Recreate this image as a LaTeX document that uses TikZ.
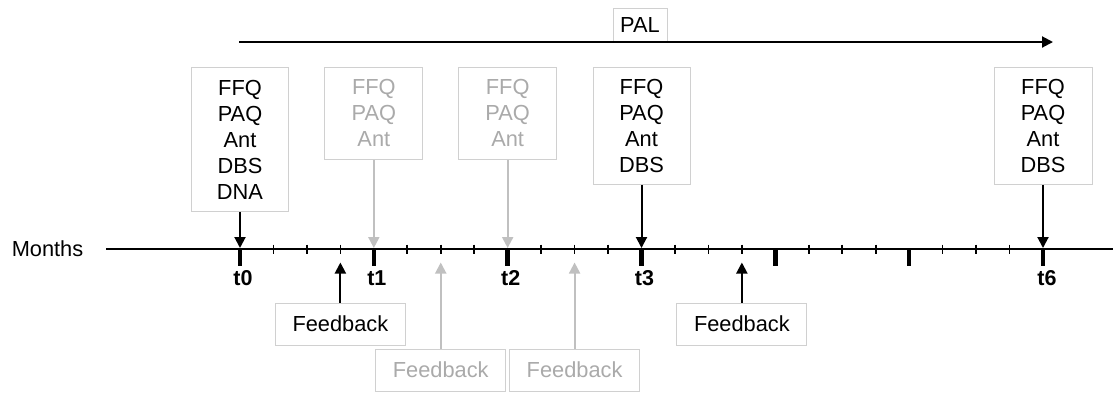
\documentclass[tikz,border=0pt]{standalone}
\usepackage{fontspec}
\setmainfont{Liberation Sans}
\usetikzlibrary{arrows.meta}

\definecolor{boxline}{RGB}{208,208,208}
\definecolor{fadetext}{RGB}{170,170,170}
\definecolor{fadearrow}{RGB}{192,192,192}

\tikzset{
  txt/.style={font=\fontsize{21.8}{26}\selectfont},
  lbl/.style={font=\fontsize{21.5}{26}\selectfont\bfseries},
  infobox/.style={draw=boxline, line width=0.9pt, fill=white, align=center,
    inner sep=0pt, txt, anchor=north},
  fbbox/.style={draw=boxline, line width=0.9pt, fill=white, inner sep=0pt,
    minimum width=130pt, minimum height=42pt, txt},
  faded/.style={text=fadetext},
  arr/.style={line width=2pt, -{Triangle[length=11pt,width=11pt]}},
  fadearr/.style={arr, draw=fadearrow, fill=fadearrow},
  minortick/.style={line width=1.6pt},
  majortick/.style={fill=black},
}

\begin{document}
\begin{tikzpicture}[x=1pt, y=-1pt]
  \useasboundingbox (0,0) rectangle (1113,392);

  % month positions along the axis
  \foreach \i in {0,...,24} {
    \coordinate (m\i) at ({240+33.458*\i},249);
  }
  \coordinate (axL) at (106,249);
  \coordinate (axR) at (1113,249);
  \coordinate (top) at (0,67);

  % axis and ticks
  \node[txt, anchor=center] (months) at (47.5,249) {Months};
  \draw[line width=2pt] (axL) -- (axR);
  \foreach \i in {1,2,3,5,6,7,9,10,11,13,14,15,17,18,19,21,22,23} {
    \draw[minortick] ([yshift=4.5pt]m\i) -- ([yshift=-4.5pt]m\i);
  }
  \foreach \i in {0,4,8,12,16,20,24} {
    \fill[majortick] ([xshift=-2.2pt]m\i) rectangle ([xshift=2.2pt,yshift=-17pt]m\i);
  }

  % time point labels
  \node[lbl] (t0) at ([xshift=3pt,yshift=-29pt]m0) {t0};
  \node[lbl] (t1) at ([xshift=3pt,yshift=-29pt]m4) {t1};
  \node[lbl] (t2) at ([xshift=3pt,yshift=-29pt]m8) {t2};
  \node[lbl] (t3) at ([xshift=3pt,yshift=-29pt]m12) {t3};
  \node[lbl] (t6) at ([xshift=4pt,yshift=-29pt]m24) {t6};

  % PAL span
  \coordinate (palL) at (239,42);
  \coordinate (palR) at (1053,42);
  \node[draw=boxline, line width=0.9pt, fill=white, txt, minimum width=54pt,
        minimum height=34pt, inner sep=0pt] (pal) at (640,25) {PAL};
  \draw[arr] (palL) -- (palR);

  % measurement boxes
  \node[infobox, minimum width=97pt, minimum height=144pt] (b0) at (m0 |- top)
    {FFQ\\PAQ\\Ant\\DBS\\DNA};
  \node[infobox, faded, minimum width=98pt, minimum height=92pt] (b1) at (m4 |- top)
    {FFQ\\PAQ\\Ant};
  \node[infobox, faded, minimum width=98pt, minimum height=92pt] (b2) at (m8 |- top)
    {FFQ\\PAQ\\Ant};
  \node[infobox, minimum width=97pt, minimum height=117pt] (b3) at (m12 |- top)
    {FFQ\\PAQ\\Ant\\DBS};
  \node[infobox, minimum width=98pt, minimum height=117pt] (b6) at (m24 |- top)
    {FFQ\\PAQ\\Ant\\DBS};

  \draw[arr] (b0.south) -- ([yshift=1pt]m0);
  \draw[fadearr] (b1.south) -- ([yshift=1pt]m4);
  \draw[fadearr] (b2.south) -- ([yshift=1pt]m8);
  \draw[arr] (b3.south) -- ([yshift=1pt]m12);
  \draw[arr] (b6.south) -- ([yshift=1pt]m24);

  % feedback boxes
  \coordinate (rowA) at (0,324);
  \coordinate (rowB) at (0,370);
  \node[fbbox] (f1) at (m3 |- rowA) {Feedback};
  \node[fbbox, faded] (f2) at (m6 |- rowB) {Feedback};
  \node[fbbox, faded] (f3) at (m10 |- rowB) {Feedback};
  \node[fbbox] (f4) at (m15 |- rowA) {Feedback};

  \draw[arr] (f1.north) -- ([yshift=-13.5pt]m3);
  \draw[fadearr] (f2.north) -- ([yshift=-13.5pt]m6);
  \draw[fadearr] (f3.north) -- ([yshift=-13.5pt]m10);
  \draw[arr] (f4.north) -- ([yshift=-13.5pt]m15);
\end{tikzpicture}
\end{document}
